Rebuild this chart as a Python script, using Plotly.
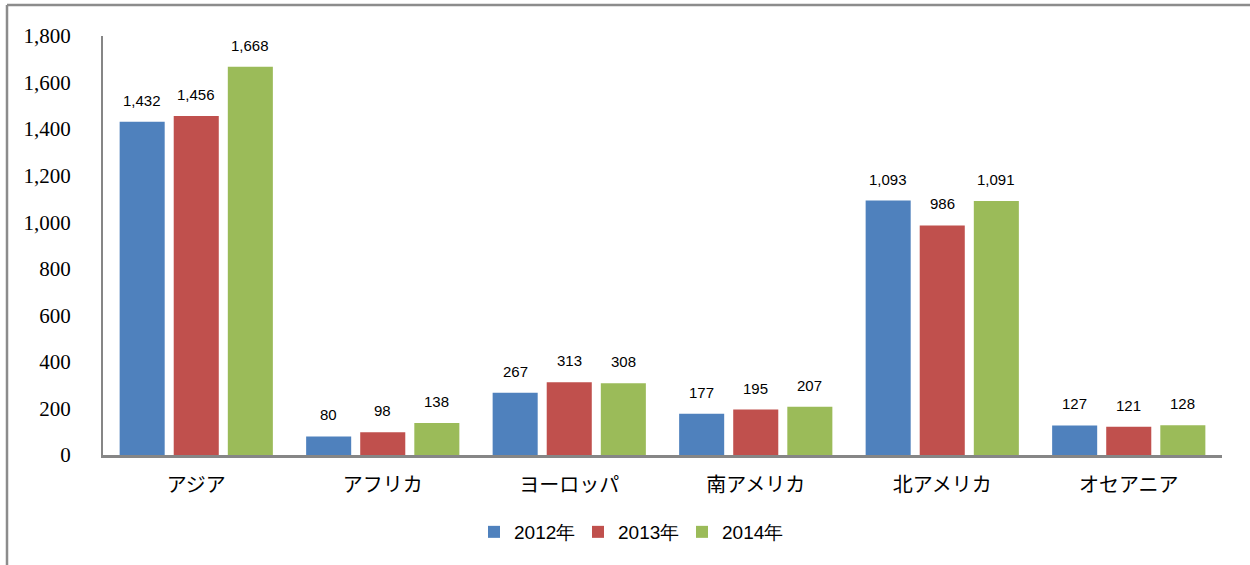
import plotly.graph_objects as go

categories = ["アジア", "アフリカ", "ヨーロッパ", "南アメリカ", "北アメリカ", "オセアニア"]
series_names = ["2012年", "2013年", "2014年"]
values_2012 = [1432, 80, 267, 177, 1093, 127]
values_2013 = [1456, 98, 313, 195, 986, 121]
values_2014 = [1668, 138, 308, 207, 1091, 128]
colors = ["#4F81BD", "#C0504D", "#9BBB59"]
y_ticks = [0, 200, 400, 600, 800, 1000, 1200, 1400, 1600, 1800]

W, H = 1250, 565
ml, mr, mt, mb = 103, 28, 36, 110

fig = go.Figure()
all_series = [values_2012, values_2013, values_2014]
for name, vals, col in zip(series_names, all_series, colors):
    fig.add_trace(go.Bar(x=categories, y=vals, name=name, marker=dict(color=col, line=dict(width=0))))

plot_w = W - ml - mr
plot_h = H - mt - mb
group_w = plot_w / len(categories)
bargap = 0.13
slot = group_w * (1 - bargap) / 3

annotations = []
for i, vals in enumerate(all_series):
    for c, v in zip(categories, vals):
        annotations.append(dict(
            x=c, y=v, text=f"{v:,}", showarrow=False,
            xshift=(i - 1) * slot, yshift=11, yanchor="bottom",
            font=dict(family="Liberation Sans, Arial", size=15, color="#000")))

fig.update_layout(
    width=W, height=H,
    margin=dict(l=ml, r=mr, t=mt, b=mb),
    paper_bgcolor="white", plot_bgcolor="white",
    barmode="group", bargap=bargap, bargroupgap=0.167,
    annotations=annotations,
    showlegend=True,
    legend=dict(orientation="h", x=(630 - ml) / plot_w, xanchor="center",
                y=-77 / plot_h, yanchor="middle",
                font=dict(family="Liberation Sans, Arial", size=19, color="#000"),
                entrywidth=59, entrywidthmode="pixels", itemwidth=30),
    xaxis=dict(showline=True, linecolor="#868686", linewidth=3, ticks="",
               tickfont=dict(family="Noto Sans CJK JP", size=20, color="#000"),
               showgrid=False, fixedrange=True, ticklabelstandoff=10),
    yaxis=dict(range=[0, 1800], tickvals=y_ticks, tickformat=",d",
               showline=True, linecolor="#868686", linewidth=2, ticks="",
               showgrid=False, zeroline=False,
               tickfont=dict(family="Liberation Serif, Times New Roman", size=21, color="#000"),
               ticklabelstandoff=26),
    shapes=[
        dict(type="line", xref="paper", yref="paper",
             x0=(7 - ml) / plot_w, x1=(W + 5 - ml) / plot_w,
             y0=1 + (mt - 5) / plot_h, y1=1 + (mt - 5) / plot_h,
             line=dict(color="#8C8C8C", width=2.5)),
        dict(type="line", xref="paper", yref="paper",
             x0=(7 - ml) / plot_w, x1=(7 - ml) / plot_w,
             y0=1 + (mt - 5) / plot_h, y1=-(mb + 5) / plot_h,
             line=dict(color="#8C8C8C", width=2.5)),
    ],
)

fig.write_html("out.html", config={"displayModeBar": False},
               post_script="document.body.style.margin='0';")
